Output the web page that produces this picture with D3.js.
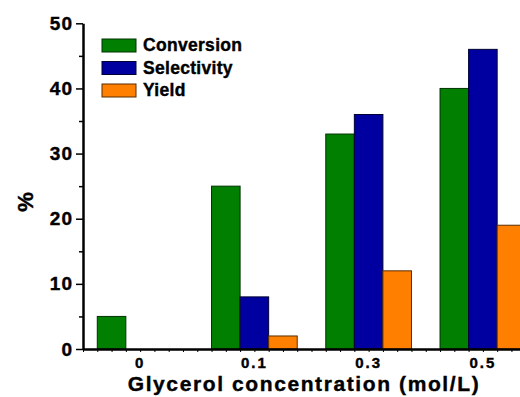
<!DOCTYPE html>
<html lang="en">
<head>
  <meta charset="UTF-8">
  <title>Glycerol concentration chart</title>
  <style>
    body { margin: 0; background: #fff; }
    svg { display: block; font-family: "Liberation Sans", Arial, sans-serif; font-weight: bold; }
  </style>
</head>
<body>
  <div id="chart"></div>

  <script src="https://d3js.org/d3.v7.min.js"></script>
  <script>
    // data
    const categories = ["0", "0.1", "0.3", "0.5"];
    const series = ["Conversion", "Selectivity", "Yield"];
    const conversion = [5, 25, 33, 40];
    const selectivity = [0, 8, 36, 46];
    const yieldVals = [0, 2, 12, 19];
    const yTicks = [0, 10, 20, 30, 40, 50];
    const yMinor = [5, 15, 25, 35, 45];

    const values = { Conversion: conversion, Selectivity: selectivity, Yield: yieldVals };
    const fills = { Conversion: "#007f00", Selectivity: "#0000a0", Yield: "#ff8000" };
    const strokes = { Conversion: "#003300", Selectivity: "#000033", Yield: "#5a2d00" };

    const W = 520, H = 397;
    // plot box; its right end runs past the window edge like in the original
    const plot = { left: 83, right: 540, top: 23.3, bottom: 349 };

    const svg = d3.select("#chart").append("svg")
      .attr("width", W)
      .attr("height", H);

    const x = d3.scaleBand()
      .domain(categories)
      .range([plot.left, plot.right])
      .paddingInner(0.25)
      .paddingOuter(0.125);

    const xs = d3.scaleBand()
      .domain(series)
      .range([0, x.bandwidth()]);

    const y = d3.scaleLinear()
      .domain([0, 50])
      .range([plot.bottom, plot.top]);

    // bars
    const groups = svg.append("g").selectAll("g")
      .data(categories)
      .join("g")
      .attr("transform", d => `translate(${x(d)},0)`);

    groups.selectAll("rect")
      .data((d, i) => series.map(s => ({ s, v: values[s][i] })).filter(e => e.v > 0))
      .join("rect")
      .attr("x", e => xs(e.s))
      .attr("y", e => y(e.v))
      .attr("width", xs.bandwidth())
      .attr("height", e => y(0) - y(e.v))
      .attr("fill", e => fills[e.s])
      .attr("stroke", e => strokes[e.s])
      .attr("stroke-width", 1);

    function boldText(sel, size, spacing) {
      sel.attr("font-size", size)
        .attr("font-family", "'Liberation Sans', Arial, sans-serif")
        .attr("font-weight", "bold")
        .attr("letter-spacing", spacing)
        .attr("fill", "#000")
        .attr("stroke", "#000")
        .attr("stroke-width", 0.4);
    }

    // y axis: minor then major ticks
    svg.append("g")
      .attr("transform", `translate(${plot.left},0)`)
      .call(d3.axisLeft(y).tickValues(yMinor).tickSize(4).tickFormat(""))
      .call(g => g.select(".domain").remove())
      .selectAll("line").attr("stroke-width", 1.5);

    const yAxis = svg.append("g")
      .attr("transform", `translate(${plot.left},0)`)
      .call(d3.axisLeft(y).tickValues(yTicks).tickSize(7).tickSizeOuter(0).tickPadding(3));
    yAxis.select(".domain").attr("stroke-width", 2.5);
    yAxis.selectAll("line").attr("stroke-width", 1.5);
    boldText(yAxis.selectAll("text"), 19, 1);

    // x axis: small ticks every half bar width
    const xu = d3.scaleLinear().domain([0, 32]).range([plot.left, plot.right]);
    const xAxisMinor = svg.append("g")
      .attr("transform", `translate(0,${plot.bottom})`)
      .call(d3.axisBottom(xu).tickValues(d3.range(0, 33)).tickSize(3).tickSizeOuter(0).tickFormat(""));
    xAxisMinor.select(".domain").attr("stroke-width", 2.5);
    xAxisMinor.selectAll("line").attr("stroke-width", 1);

    const xAxis = svg.append("g")
      .attr("transform", `translate(0,${plot.bottom})`)
      .call(d3.axisBottom(x).tickSize(0).tickPadding(8));
    xAxis.select(".domain").remove();
    boldText(xAxis.selectAll("text"), 15, 2);

    // axis titles
    svg.append("text")
      .attr("x", 304)
      .attr("y", 391)
      .attr("text-anchor", "middle")
      .call(boldText, 21, 1.6)
      .text("Glycerol concentration (mol/L)");

    svg.append("text")
      .attr("transform", "translate(33,202) rotate(-90)")
      .attr("text-anchor", "middle")
      .call(boldText, 22, 0)
      .text("%");

    // legend
    const legend = svg.append("g")
      .attr("transform", "translate(102,39)");

    const item = legend.selectAll("g")
      .data(series)
      .join("g")
      .attr("transform", (d, i) => `translate(0,${i * 22.5})`);

    item.append("rect")
      .attr("width", 34)
      .attr("height", 13)
      .attr("fill", d => fills[d])
      .attr("stroke", d => strokes[d])
      .attr("stroke-width", 1);

    item.append("text")
      .attr("x", 41)
      .attr("y", 12)
      .call(boldText, 17.5, 0.3)
      .text(d => d);
  </script>
</body>
</html>
